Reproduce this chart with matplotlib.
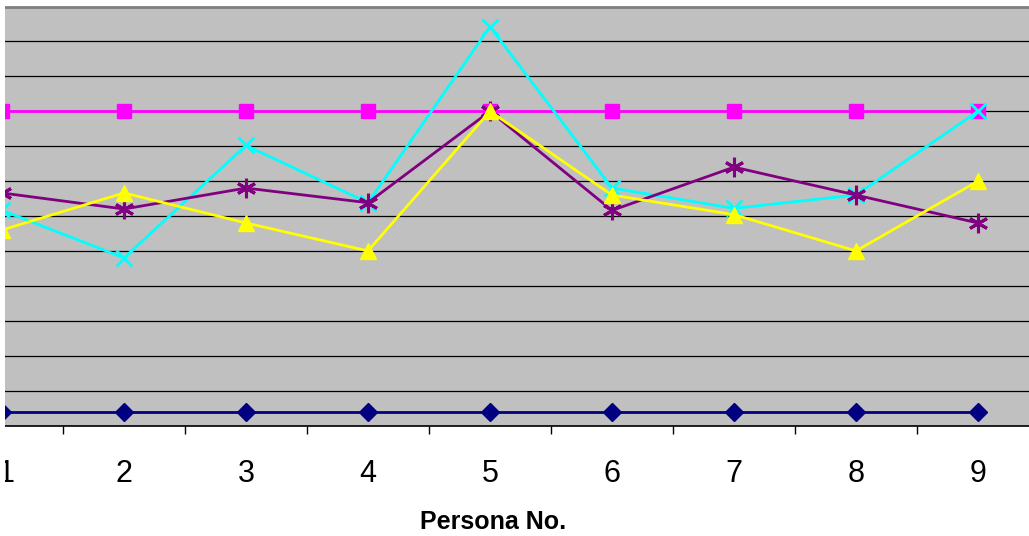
import numpy as np
import matplotlib.pyplot as plt
from matplotlib.patches import Rectangle
from matplotlib.transforms import ScaledTranslation

persona = [1, 2, 3, 4, 5, 6, 7, 8, 9]

# mean scores per persona for each series
s_navy = [0.2, 0.2, 0.2, 0.2, 0.2, 0.2, 0.2, 0.2, 0.2]
s_pink = [4.5, 4.5, 4.5, 4.5, 4.5, 4.5, 4.5, 4.5, 4.5]
s_cyan = [3.08, 2.40, 4.01, 3.19, 5.71, 3.40, 3.11, 3.30, 4.5]
s_purple = [3.33, 3.10, 3.40, 3.19, 4.5, 3.08, 3.70, 3.30, 2.90]
s_yellow = [2.80, 3.33, 2.90, 2.50, 4.5, 3.30, 3.02, 2.50, 3.50]

plt.rcParams['font.family'] = ['Liberation Sans', 'DejaVu Sans']

fig = plt.figure(figsize=(10.29, 5.36), dpi=100)
W, H = 1029, 536
# plot area runs from category 0.5 to 9.5; it is wider than the canvas
ax = fig.add_axes([-59 / W, (H - 425.5) / H, 1098 / W, 419 / H])
ax.set_facecolor('#C0C0C0')
ax.set_xlim(0.5, 9.5)
ax.set_ylim(0, 6)

ax.set_yticks(np.arange(0, 6.01, 0.5))
ax.yaxis.grid(True, color='black', linewidth=0.9)
ax.set_axisbelow(True)
ax.tick_params(axis='y', left=False, labelleft=False)

ax.set_xticks(persona)
ax.set_xticklabels([str(p) for p in persona], fontsize=22)
ax.set_xticks(np.arange(1.5, 9, 1), minor=True)
ax.tick_params(axis='x', which='major', length=0, pad=24)
ax.tick_params(axis='x', which='minor', length=6, width=1, direction='out', color='black')

# nudge the first label a few pixels so its stem sits past the margin
first = ax.xaxis.get_major_ticks()[0].label1
first.set_transform(first.get_transform() + ScaledTranslation(4 / 100, 0, fig.dpi_scale_trans))

for side in ('left', 'right'):
    ax.spines[side].set_visible(False)
ax.spines['top'].set_color('#808080')
ax.spines['top'].set_linewidth(2)
ax.spines['bottom'].set_color('black')
ax.spines['bottom'].set_linewidth(1.2)

lw = 2
ax.plot(persona, s_navy, color='#000080', lw=lw, marker='D', ms=9, zorder=3, clip_on=False)
ax.plot(persona, s_pink, color='#FF00FF', lw=lw, marker='s', ms=10, zorder=3, clip_on=False)
ax.plot(persona, s_cyan, color='#00FFFF', lw=lw, marker='x', ms=11, mew=2, zorder=4, clip_on=False)
ax.plot(persona, s_purple, color='#800080', lw=lw, marker=(6, 2, 0), ms=14, mew=2.2, zorder=5, clip_on=False)
ax.plot(persona, s_yellow, color='#FFFF00', lw=lw, marker='^', ms=12, zorder=6, clip_on=False)

fig.text(493 / W, (H - 529) / H, 'Persona No.', fontsize=18, fontweight='bold',
         ha='center', va='baseline')

# white margin along the left edge
fig.patches.append(Rectangle((0, 0), 4.5 / W, 1, transform=fig.transFigure,
                             facecolor='white', edgecolor='none', zorder=10))

fig.savefig('out.png', dpi=100)
